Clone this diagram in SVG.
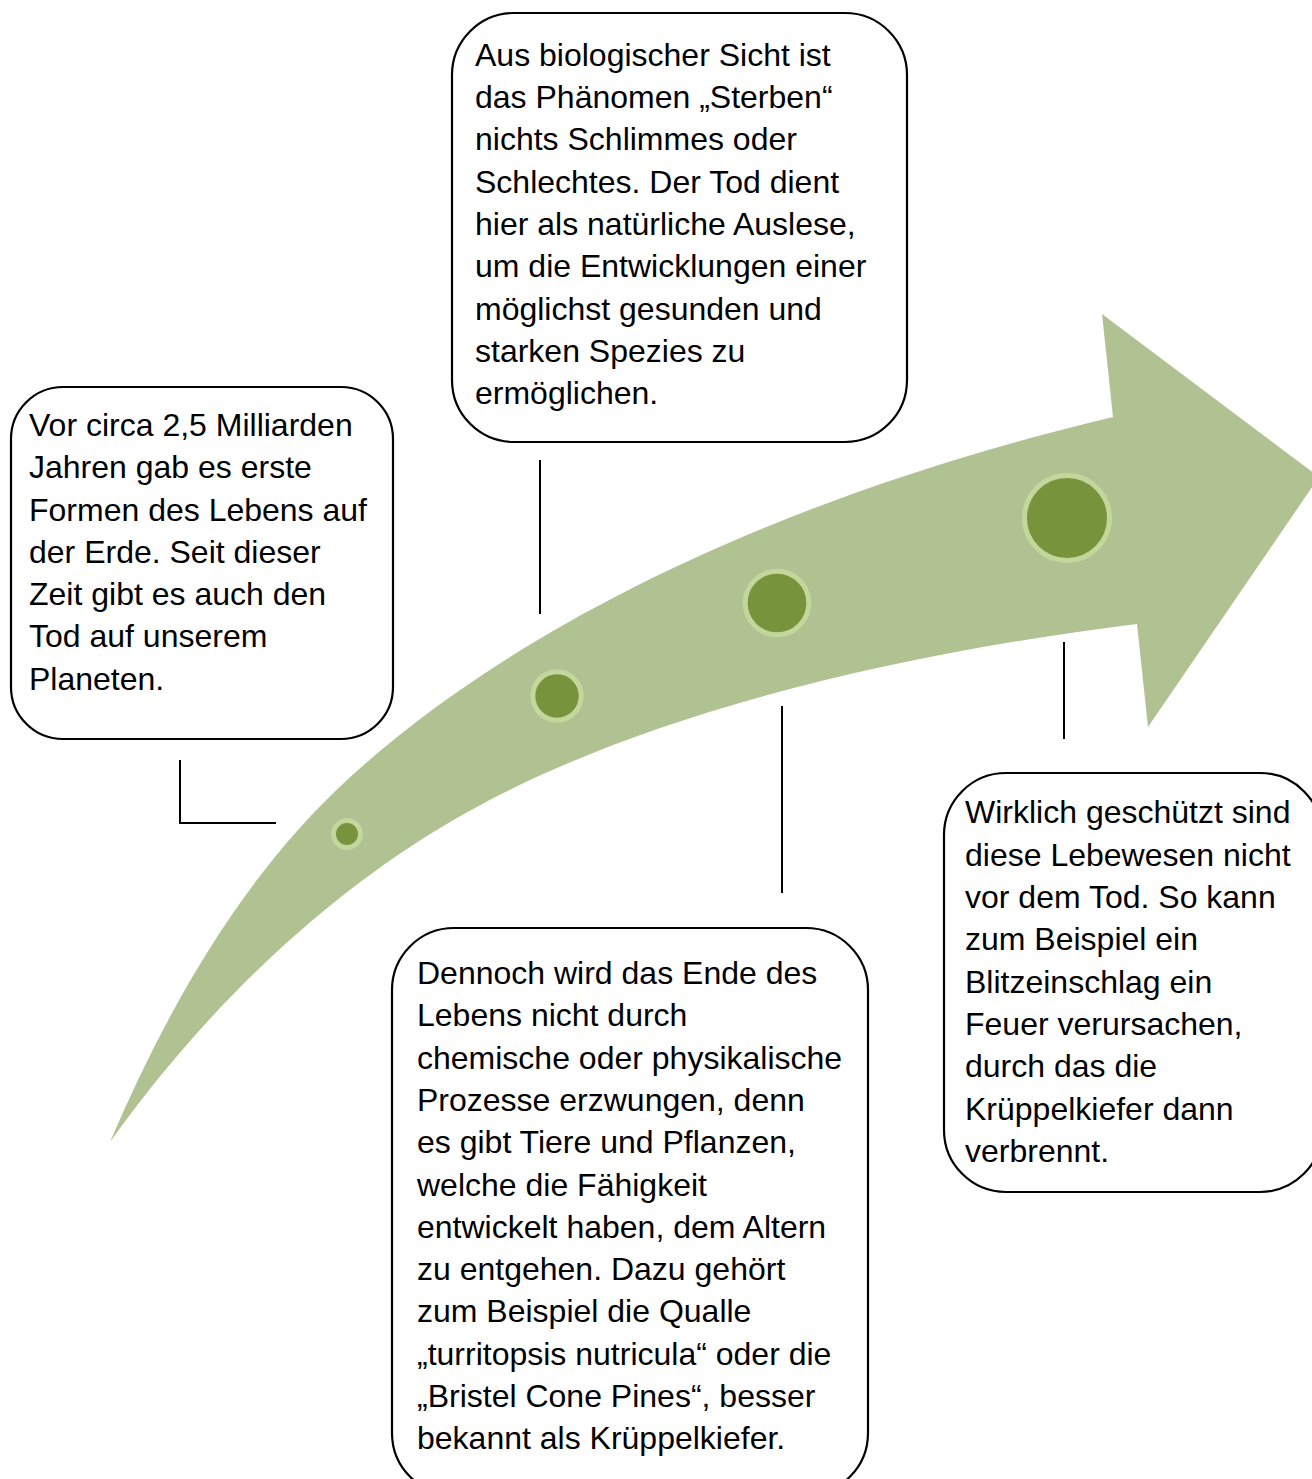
<svg xmlns="http://www.w3.org/2000/svg" width="1312" height="1479" viewBox="0 0 1312 1479">
  <style>
    .box { fill: #FFFFFF; stroke: #000000; stroke-width: 2.2; }
    .txt { font-family: "Liberation Sans", Arial, sans-serif; font-size: 32px; fill: #000000; }
    .conn { fill: none; stroke: #000000; stroke-width: 2; }
    .dot { fill: #77933C; stroke: #C3D69B; stroke-width: 5; }
  </style>
  <rect width="1312" height="1479" fill="#FFFFFF"/>

  <!-- curved timeline arrow -->
  <g id="arrow">
    <path fill="#B1C292" d="M110,1142
      C166.7,1009.7 241,877.5 347,780
      C518.9,621.9 787,494.8 1113,417
      L1102,314 L1319,477 L1148,727 L1137,624
      C847.9,659.9 607.4,729.2 450,822
      C316.5,900.7 200.1,1015.8 110,1142 Z"/>
  </g>

  <!-- milestones on the arrow -->
  <g id="milestones">
    <circle class="dot" cx="347" cy="834" r="13.5"/>
    <circle class="dot" cx="557" cy="696" r="24.2"/>
    <circle class="dot" cx="777" cy="603" r="31.8"/>
    <circle class="dot" cx="1067" cy="518" r="42.5"/>
  </g>

  <!-- leader lines -->
  <g id="connectors">
    <polyline class="conn" points="180,760 180,823 276,823"/>
    <line class="conn" x1="540" y1="460" x2="540" y2="614"/>
    <line class="conn" x1="782" y1="706" x2="782" y2="893"/>
    <line class="conn" x1="1064" y1="642" x2="1064" y2="739"/>
  </g>

  <g id="box-origin">
    <rect class="box" x="11" y="387" width="382" height="352" rx="52" ry="52"/>
    <text class="txt">
      <tspan x="29" y="436">Vor circa 2,5 Milliarden</tspan>
      <tspan x="29" y="478">Jahren gab es erste</tspan>
      <tspan x="29" y="521">Formen des Lebens auf</tspan>
      <tspan x="29" y="563">der Erde. Seit dieser</tspan>
      <tspan x="29" y="605">Zeit gibt es auch den</tspan>
      <tspan x="29" y="647">Tod auf unserem</tspan>
      <tspan x="29" y="690">Planeten.</tspan>
    </text>
  </g>

  <g id="box-biology">
    <rect class="box" x="452" y="13" width="455" height="429" rx="62" ry="62"/>
    <text class="txt">
      <tspan x="475" y="66">Aus biologischer Sicht ist</tspan>
      <tspan x="475" y="108">das Phänomen „Sterben“</tspan>
      <tspan x="475" y="150">nichts Schlimmes oder</tspan>
      <tspan x="475" y="193">Schlechtes. Der Tod dient</tspan>
      <tspan x="475" y="235">hier als natürliche Auslese,</tspan>
      <tspan x="475" y="277">um die Entwicklungen einer</tspan>
      <tspan x="475" y="320">möglichst gesunden und</tspan>
      <tspan x="475" y="362">starken Spezies zu</tspan>
      <tspan x="475" y="404">ermöglichen.</tspan>
    </text>
  </g>

  <g id="box-immortal">
    <rect class="box" x="392" y="928" width="476" height="567" rx="62" ry="62"/>
    <text class="txt">
      <tspan x="417" y="984">Dennoch wird das Ende des</tspan>
      <tspan x="417" y="1026">Lebens nicht durch</tspan>
      <tspan x="417" y="1069">chemische oder physikalische</tspan>
      <tspan x="417" y="1111">Prozesse erzwungen, denn</tspan>
      <tspan x="417" y="1153">es gibt Tiere und Pflanzen,</tspan>
      <tspan x="417" y="1196">welche die Fähigkeit</tspan>
      <tspan x="417" y="1238">entwickelt haben, dem Altern</tspan>
      <tspan x="417" y="1280">zu entgehen. Dazu gehört</tspan>
      <tspan x="417" y="1322">zum Beispiel die Qualle</tspan>
      <tspan x="417" y="1365">„turritopsis nutricula“ oder die</tspan>
      <tspan x="417" y="1407">„Bristel Cone Pines“, besser</tspan>
      <tspan x="417" y="1449">bekannt als Krüppelkiefer.</tspan>
    </text>
  </g>

  <g id="box-fire">
    <rect class="box" x="944" y="773" width="378" height="419" rx="62" ry="62"/>
    <text class="txt">
      <tspan x="965" y="823">Wirklich geschützt sind</tspan>
      <tspan x="965" y="866">diese Lebewesen nicht</tspan>
      <tspan x="965" y="908">vor dem Tod. So kann</tspan>
      <tspan x="965" y="950">zum Beispiel ein</tspan>
      <tspan x="965" y="993">Blitzeinschlag ein</tspan>
      <tspan x="965" y="1035">Feuer verursachen,</tspan>
      <tspan x="965" y="1077">durch das die</tspan>
      <tspan x="965" y="1120">Krüppelkiefer dann</tspan>
      <tspan x="965" y="1162">verbrennt.</tspan>
    </text>
  </g>
</svg>
